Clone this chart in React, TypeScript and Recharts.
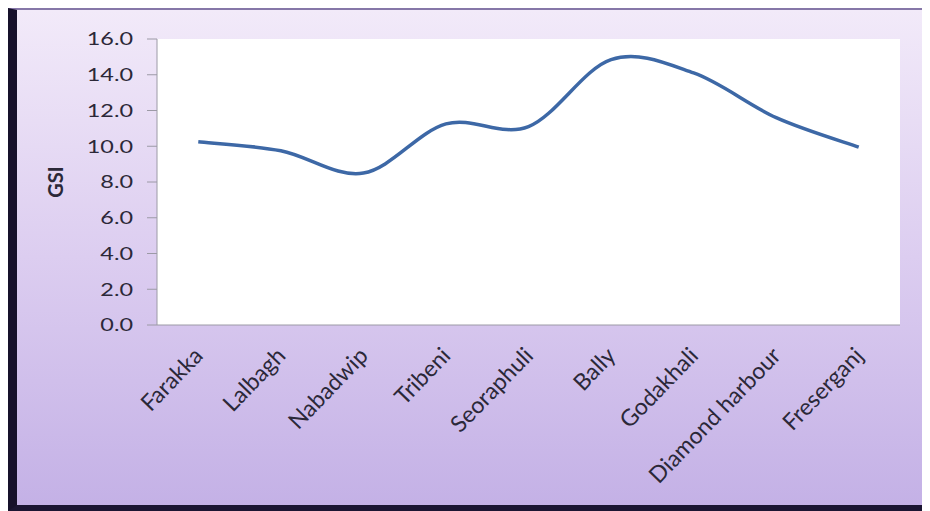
import React from "react";
import {
  LineChart,
  Line,
  XAxis,
  YAxis,
  CartesianGrid,
} from "recharts";

const categories = [
  "Farakka",
  "Lalbagh",
  "Nabadwip",
  "Tribeni",
  "Seoraphuli",
  "Bally",
  "Godakhali",
  "Diamond harbour",
  "Freserganj",
];
const gsi = [10.25, 9.75, 8.5, 11.25, 11.1, 14.85, 14.1, 11.6, 9.95];
const yTicks = [0, 2, 4, 6, 8, 10, 12, 14, 16];

// category boundaries carry the tick marks, centres carry the names
const boundaryTicks = categories.map((_, i) => i).concat(categories.length);
const centreTicks = categories.map((_, i) => i + 0.5);

const data = categories.map((name, i) => ({ name, pos: i + 0.5, gsi: gsi[i] }));

const textColor = "#2b2838";
const axisColor = "#9c9aa6";

// Excel-like smoothed line (Catmull-Rom to bezier)
const excelSmooth = (context: any) => {
  let pts: number[][] = [];
  return {
    areaStart() {},
    areaEnd() {},
    lineStart() {
      pts = [];
    },
    point(x: number, y: number) {
      pts.push([+x, +y]);
    },
    lineEnd() {
      if (!pts.length) return;
      context.moveTo(pts[0][0], pts[0][1]);
      for (let i = 0; i < pts.length - 1; i++) {
        const p0 = pts[i - 1] || pts[i];
        const p1 = pts[i];
        const p2 = pts[i + 1];
        const p3 = pts[i + 2] || p2;
        context.bezierCurveTo(
          p1[0] + (p2[0] - p0[0]) / 6,
          p1[1] + (p2[1] - p0[1]) / 6,
          p2[0] - (p3[0] - p1[0]) / 6,
          p2[1] - (p3[1] - p1[1]) / 6,
          p2[0],
          p2[1]
        );
      }
    },
  };
};

const ValueTick = (props: any) => {
  const { x, y, payload } = props;
  return (
    <g transform={`translate(${x - 12},${y})`}>
      <text
        textAnchor="end"
        dy="0.36em"
        transform="scale(1.3,1)"
        fontSize={18}
        fill={textColor}
      >
        {Number(payload.value).toFixed(1)}
      </text>
    </g>
  );
};

const NameTick = (props: any) => {
  const { x, y, payload } = props;
  const name = categories[Math.floor(payload.value)];
  return (
    <g transform={`translate(${x + 6},${y + 22})`}>
      <text textAnchor="end" transform="rotate(-46)" fontSize={23} fill={textColor}>
        {name}
      </text>
    </g>
  );
};

const GsiLabel = (props: any) => {
  const vb = props.viewBox || { x: 0, y: 0, height: 0 };
  const cx = vb.x + 39;
  const cy = vb.y + vb.height / 2;
  return (
    <text
      x={cx}
      y={cy}
      textAnchor="middle"
      dy="0.36em"
      transform={`rotate(-90, ${cx}, ${cy})`}
      fontSize={20}
      fontWeight="bold"
      fill={textColor}
    >
      GSI
    </text>
  );
};

export default function App() {
  return (
    <div
      style={{
        width: 906,
        height: 495,
        borderLeft: "9px solid #17112b",
        borderTop: "2px solid #8677a8",
        borderRight: "5px solid #5d4d89",
        borderBottom: "6px solid #1b1532",
        background: "linear-gradient(to bottom, #f2eaf9 0%, #dccdf0 50%, #c4b1e6 100%)",
        fontFamily: "Lato, sans-serif",
      }}
    >
      <LineChart
        width={906}
        height={495}
        data={data}
        margin={{ top: 29, right: 23, left: 0, bottom: 0 }}
      >
        <CartesianGrid horizontal={false} vertical={false} fill="#ffffff" stroke="none" />
        <XAxis
          xAxisId="grid"
          type="number"
          dataKey="pos"
          domain={[0, categories.length]}
          ticks={boundaryTicks}
          interval={0}
          tick={false}
          tickSize={7}
          height={10}
          stroke={axisColor}
        />
        <XAxis
          xAxisId="names"
          type="number"
          dataKey="pos"
          domain={[0, categories.length]}
          ticks={centreTicks}
          interval={0}
          axisLine={false}
          tickLine={false}
          tickSize={0}
          tickMargin={0}
          height={170}
          tick={<NameTick />}
        />
        <YAxis
          type="number"
          domain={[0, 16]}
          ticks={yTicks}
          interval={0}
          width={140}
          tickSize={10}
          stroke={axisColor}
          tick={<ValueTick />}
          label={<GsiLabel />}
        />
        <Line
          xAxisId="grid"
          type={excelSmooth as any}
          dataKey="gsi"
          stroke="#3d68a6"
          strokeWidth={3.5}
          dot={false}
          isAnimationActive={false}
        />
      </LineChart>
    </div>
  );
}
